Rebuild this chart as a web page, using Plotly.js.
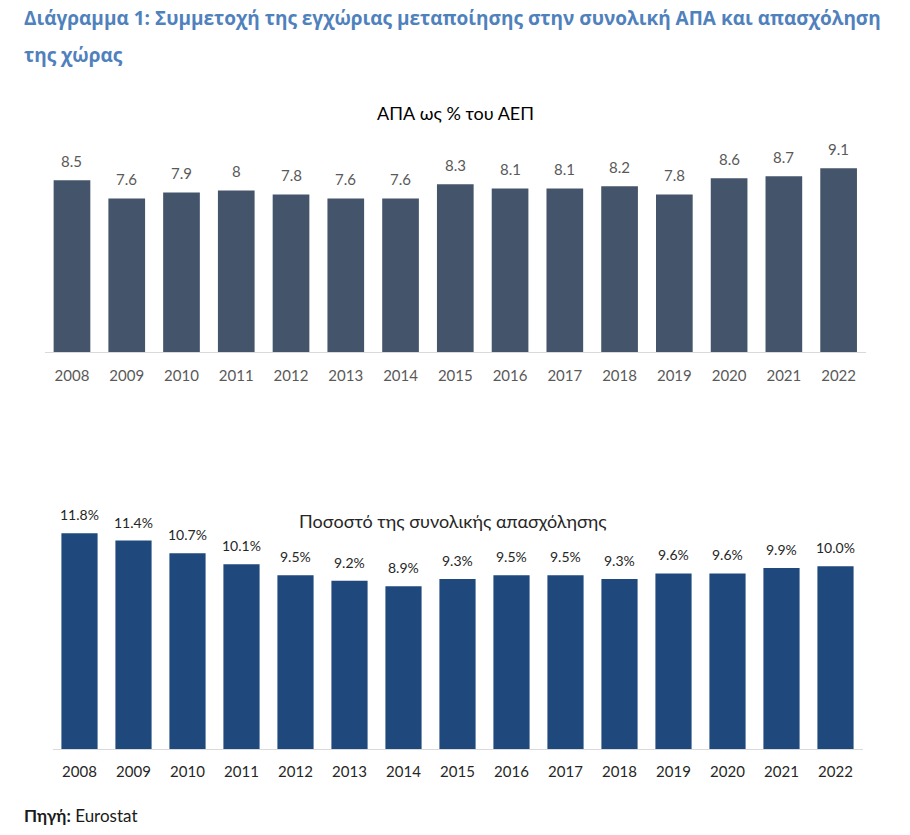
<!DOCTYPE html>
<html>
<head>
<meta charset="utf-8">
<script src="https://cdn.plot.ly/plotly-3.0.1.min.js"></script>
<style>html,body{margin:0;padding:0;background:#fff;} #chart{width:910px;height:835px;}</style>
</head>
<body>
<div id="chart"></div>
<script>
const years = ['2008','2009','2010','2011','2012','2013','2014','2015','2016','2017','2018','2019','2020','2021','2022'];
const gvaShare = [8.5, 7.6, 7.9, 8, 7.8, 7.6, 7.6, 8.3, 8.1, 8.1, 8.2, 7.8, 8.6, 8.7, 9.1];
const empShare = [11.8, 11.4, 10.7, 10.1, 9.5, 9.2, 8.9, 9.3, 9.5, 9.5, 9.3, 9.6, 9.6, 9.9, 10.0];

const headingLine1 = 'Διάγραμμα 1: Συμμετοχή της εγχώριας μεταποίησης στην συνολική ΑΠΑ και απασχόληση';
const headingLine2 = 'της χώρας';
const topTitle = 'ΑΠΑ ως % του ΑΕΠ';
const bottomTitle = 'Ποσοστό της συνολικής απασχόλησης';

const FONT = 'Lato, "Open Sans", sans-serif';
const HFONT = '"Open Sans", Lato, sans-serif';

const traces = [
  {type:'bar', x: years, y: gvaShare, xaxis:'x', yaxis:'y', marker:{color:'#44546A'}, hoverinfo:'skip'},
  {type:'bar', x: years, y: empShare, xaxis:'x2', yaxis:'y2', marker:{color:'#1F497D'}, hoverinfo:'skip'}
];

const annotations = [];
years.forEach((yr, i) => {
  // category axes: annotation x is the category's serial index
  annotations.push({x: i, y: gvaShare[i], xref:'x', yref:'y', text: String(gvaShare[i]),
    showarrow:false, yanchor:'bottom', yshift:8, font:{family:FONT, size:15, color:'#595959'}});
  annotations.push({x: i, y: empShare[i], xref:'x2', yref:'y2', text: empShare[i].toFixed(1) + '%',
    showarrow:false, yanchor:'bottom', yshift:8, font:{family:FONT, size:14, color:'#262626'}});
});
annotations.push({xref:'paper', yref:'paper', x:22/910, y:1-18/835, xanchor:'left', yanchor:'middle',
  text:'<b>'+headingLine1+'</b>', showarrow:false, font:{family:HFONT, size:19, color:'#4F81BD'}});
annotations.push({xref:'paper', yref:'paper', x:22/910, y:1-55/835, xanchor:'left', yanchor:'middle',
  text:'<b>'+headingLine2+'</b>', showarrow:false, font:{family:HFONT, size:19, color:'#4F81BD'}});
annotations.push({xref:'paper', yref:'paper', x:455/910, y:1-113/835, xanchor:'center', yanchor:'middle',
  text: topTitle, showarrow:false, font:{family:FONT, size:18, color:'#000000'}});
annotations.push({xref:'paper', yref:'paper', x:453/910, y:1-521/835, xanchor:'center', yanchor:'middle',
  text: bottomTitle, showarrow:false, font:{family:FONT, size:18, color:'#262626'}});
annotations.push({xref:'paper', yref:'paper', x:22/910, y:1-815/835, xanchor:'left', yanchor:'middle',
  text:'<b>Πηγή:</b> Eurostat', showarrow:false, font:{family:FONT, size:17, color:'#1a1a1a'}});

const layout = {
  width:910, height:835,
  margin:{l:0, r:0, t:0, b:0},
  paper_bgcolor:'#ffffff', plot_bgcolor:'#ffffff',
  showlegend:false,
  bargap:0.33,
  xaxis:{type:'category', range:[-0.5, years.length-0.5], domain:[44.6/910, 866/910], anchor:'y', showline:true, linecolor:'#D9D9D9', linewidth:1,
    ticks:'', ticklabelstandoff:10, showgrid:false, zeroline:false, tickfont:{family:FONT, size:15, color:'#595959'}, fixedrange:true},
  yaxis:{domain:[1-352/835, 1-150/835], range:[0,10], visible:false, fixedrange:true},
  xaxis2:{type:'category', range:[-0.5, years.length-0.5], domain:[52.5/910, 862.5/910], anchor:'y2', showline:true, linecolor:'#D9D9D9', linewidth:1,
    ticks:'', ticklabelstandoff:9, showgrid:false, zeroline:false, tickfont:{family:FONT, size:15, color:'#262626'}, fixedrange:true},
  yaxis2:{domain:[1-749/835, 1-493/835], range:[0,14], visible:false, fixedrange:true},
  annotations: annotations
};

Plotly.newPlot('chart', traces, layout, {displayModeBar:false, staticPlot:true});
</script>
</body>
</html>
